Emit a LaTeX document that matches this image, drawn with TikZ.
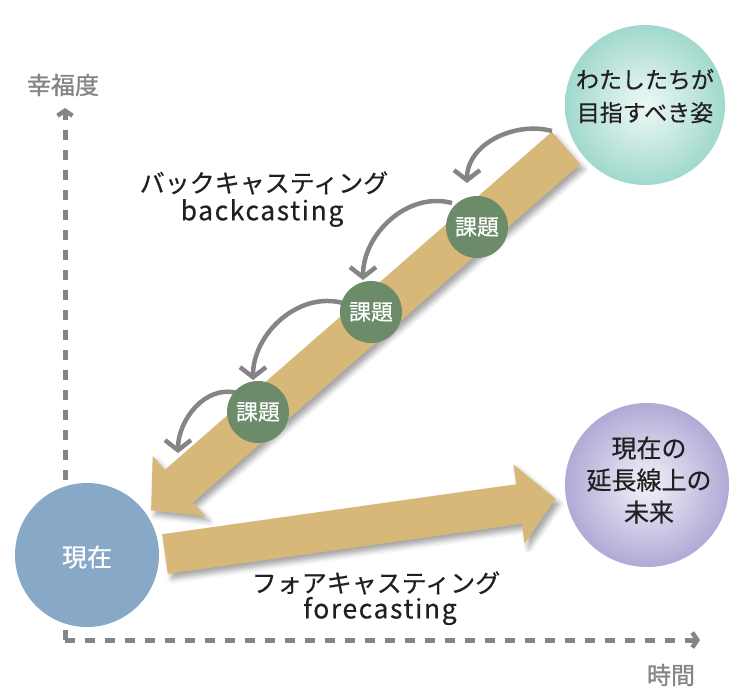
\documentclass[tikz,border=0pt]{standalone}
\usepackage{fontspec}
\setmainfont{Noto Sans CJK JP}
\newfontfamily\jpbold[FakeBold=1.2]{Noto Sans CJK JP}
\newfontfamily\jpmed[FakeBold=0.5]{Noto Sans CJK JP}
\newfontfamily\latinsp[FakeBold=0.4,LetterSpace=6]{Noto Sans CJK JP}
\usetikzlibrary{arrows.meta,shadows.blur}
\definecolor{tanband}{HTML}{D8B878}
\definecolor{axisgray}{HTML}{858585}
\definecolor{arcgray}{HTML}{858585}
\definecolor{tealc}{HTML}{8ACFC1}
\definecolor{purplec}{HTML}{9A8FCA}
\definecolor{bluec}{HTML}{88A8C8}
\definecolor{greenc}{HTML}{6B8B69}
\definecolor{textdark}{HTML}{231F20}
\pgfdeclareradialshading{tealglow}{\pgfpoint{0bp}{0bp}}{color(0bp)=(white!85!tealc); color(10bp)=(white!60!tealc); color(32bp)=(tealc); color(50bp)=(tealc)}
\pgfdeclareradialshading{purpleglow}{\pgfpoint{0bp}{0bp}}{color(0bp)=(white!88!purplec); color(10bp)=(white!62!purplec); color(34bp)=(purplec); color(50bp)=(purplec)}
\begin{document}
\begin{tikzpicture}[x=1pt,y=1pt,
  axisline/.style={draw=axisgray, line width=5pt, dash pattern=on 10pt off 10pt,
     -{Straight Barb[length=5pt,width=15pt,line width=4.5pt]}},
  axislabel/.style={text=axisgray, font=\jpbold\fontsize{24}{28}\selectfont, inner sep=0pt},
  band/.style={fill=tanband, draw=none,
     blur shadow={shadow xshift=4pt, shadow yshift=-5pt, shadow blur radius=5pt, shadow opacity=35}},
  bigcirc/.style={circle, draw=none, inner sep=0pt},
  circtext/.style={align=center, text=textdark, inner sep=0pt},
  taskcirc/.style={circle, fill=greenc, minimum size=62pt, inner sep=0pt, text=white,
     font=\jpmed\fontsize{22}{26}\selectfont},
  backarc/.style={draw=arcgray, line width=4.5pt, -{Straight Barb[length=10pt,width=26pt]}},
  lbl/.style={text=textdark, inner sep=0pt, font=\jpmed\fontsize{25}{30}\selectfont},
  lbllat/.style={text=textdark, inner sep=0pt, font=\latinsp\fontsize{26.5}{30}\selectfont}
]
\useasboundingbox (0,0) rectangle (756,-689);

% axes
\coordinate (O) at (65,-640);
\coordinate (Ytip) at (65,-108);
\coordinate (Xtip) at (700,-640);
\draw[axisline] (O) -- (Ytip);
\draw[axisline] (O) -- (Xtip);
\node[axislabel] (ylab) at (63,-85) {幸福度};
\node[axislabel] (xlab) at (671,-675) {時間};

% forecasting band
\path[band] (162.2,-534.2) -- (516.2,-484.2) -- (513.4,-464.4) -- (555.6,-498.8)
   -- (524.6,-543.6) -- (521.8,-523.8) -- (167.8,-573.8) -- cycle;
% backcasting band
\path[band] (551.9,-131.8) -- (580.1,-164.2) -- (193.1,-502.2) -- (205.3,-516.1)
   -- (151.1,-510.3) -- (152.7,-455.9) -- (164.9,-469.8) -- cycle;

% big circles
\node[bigcirc, shading=tealglow, minimum size=160pt] (goal) at (645,-105) {};
\node[circtext, font=\jpmed\fontsize{23}{33}\selectfont] (goaltext) at (645,-96) {わたしたちが\\目指すべき姿};
\node[bigcirc, shading=purpleglow, minimum size=164pt] (future) at (647,-485) {};
\node[circtext, font=\jpmed\fontsize{25}{32}\selectfont] (futuretext) at (649,-480) {現在の\\延長線上の\\未来};
\node[bigcirc, fill=bluec, minimum size=144pt] (now) at (87,-555) {};
\node[circtext, text=white, font=\jpmed\fontsize{25}{30}\selectfont] (nowtext) at (87,-557) {現在};

% curved arrows
\coordinate (a1s) at (552,-131);
\coordinate (a1e) at (467,-183);
\coordinate (a2s) at (452,-203);
\coordinate (a2e) at (363,-280);
\coordinate (a3s) at (343,-303);
\coordinate (a3e) at (253,-380);
\coordinate (a4s) at (237,-393);
\coordinate (a4e) at (178,-453);
\draw[backarc] (a1s) to[out=165,in=90] (a1e);
\draw[backarc] (a2s) to[out=165,in=90] (a2e);
\draw[backarc] (a3s) to[out=165,in=90] (a3e);
\draw[backarc] (a4s) to[out=165,in=90] (a4e);

% task circles
\node[taskcirc] (t1) at (477,-227) {課題};
\node[taskcirc] (t2) at (371,-312) {課題};
\node[taskcirc] (t3) at (258,-412) {課題};

% labels
\node[lbl] (bkj) at (264,-183) {バックキャスティング};
\node[lbllat] (bke) at (262,-213) {backcasting};
\node[lbl] (fcj) at (376,-583) {フォアキャスティング};
\node[lbllat] (fce) at (380,-611) {forecasting};
\end{tikzpicture}
\end{document}
